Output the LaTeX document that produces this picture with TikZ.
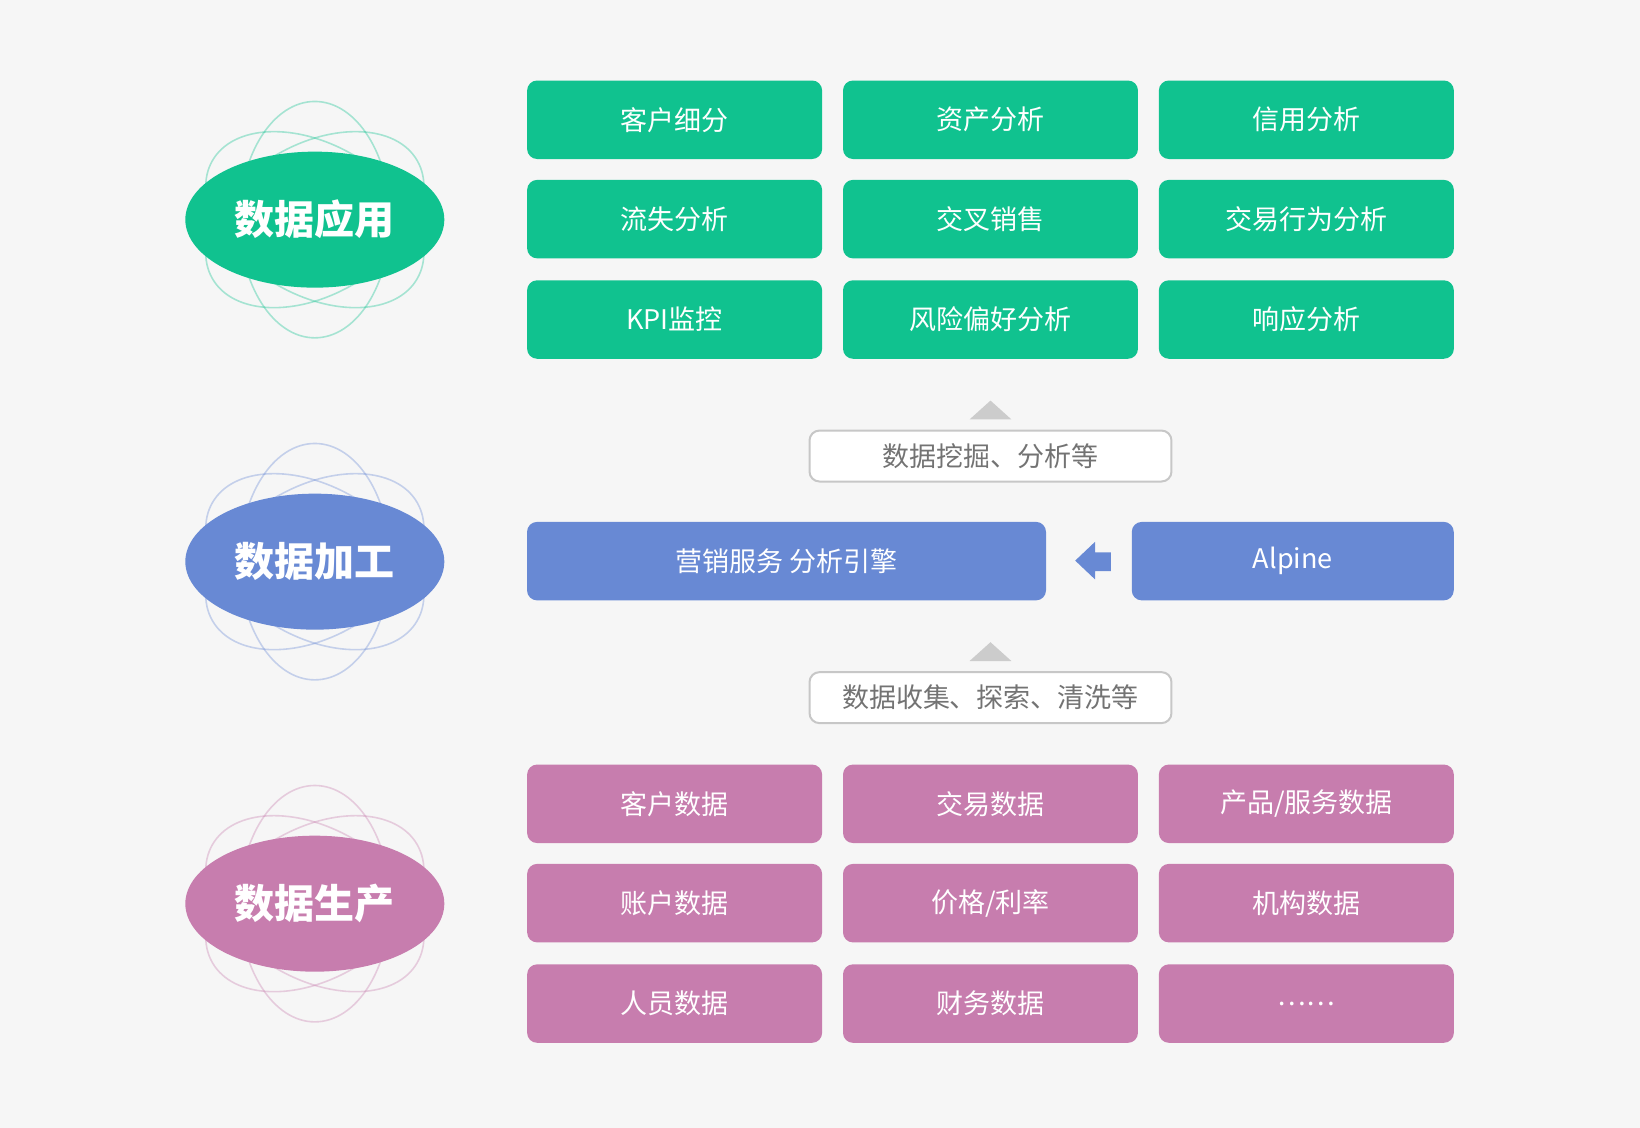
\documentclass[tikz,border=0pt]{standalone}
\usepackage{fontspec}
\setmainfont{Noto Sans CJK SC}
\usetikzlibrary{shapes.geometric}
\definecolor{bg}{HTML}{F6F6F6}
\definecolor{gr}{HTML}{10C28F}
\definecolor{bl}{HTML}{6889D4}
\definecolor{pk}{HTML}{C77DAE}
\tikzset{
 bx/.style={rounded corners=10pt,minimum width=295pt,minimum height=78.5pt,text=white,font=\fontsize{27}{31}\selectfont,inner sep=0},
 lbl/.style={draw=black!22,line width=2pt,fill=white,rounded corners=10pt,minimum width=362pt,minimum height=51pt,text=black!55,font=\fontsize{27}{31}\selectfont,inner sep=0},
 big/.style={ellipse,minimum width=259pt,minimum height=136pt,text=white,font=\fontsize{40}{44}\selectfont\bfseries,inner sep=0},
}
\begin{document}
\begin{tikzpicture}[x=1.046pt,y=-1.046pt]
\fill[bg] (0,0) rectangle (1568,1078);
\useasboundingbox (0,0) rectangle (1568,1078);
\foreach \c/\yy in {gr/210,bl/537,pk/864}{
 \foreach \a in {90,30,-30}{
  \draw[\c,opacity=0.35,line width=1.6pt,rotate around={\a:(301,\yy)}] (301,\yy) ellipse[x radius=113,y radius=72];
 }
}
\node[big,fill=gr] (e1) at (301,210) {数据应用};
\node[big,fill=bl] (e2) at (301,537) {数据加工};
\node[big,fill=pk] (e3) at (301,864) {数据生产};
% green
\node[bx,fill=gr] (g1) at (645,114.5) {客户细分};
\node[bx,fill=gr] (g2) at (947,114.5) {资产分析};
\node[bx,fill=gr] (g3) at (1249,114.5) {信用分析};
\node[bx,fill=gr] (g4) at (645,209.5) {流失分析};
\node[bx,fill=gr] (g5) at (947,209.5) {交叉销售};
\node[bx,fill=gr] (g6) at (1249,209.5) {交易行为分析};
\node[bx,fill=gr] (g7) at (645,305.5) {KPI监控};
\node[bx,fill=gr] (g8) at (947,305.5) {风险偏好分析};
\node[bx,fill=gr] (g9) at (1249,305.5) {响应分析};
% pink
\node[bx,fill=pk] (p1) at (645,768.5) {客户数据};
\node[bx,fill=pk] (p2) at (947,768.5) {交易数据};
\node[bx,fill=pk] (p3) at (1249,768.5) {产品/服务数据};
\node[bx,fill=pk] (p4) at (645,863.5) {账户数据};
\node[bx,fill=pk] (p5) at (947,863.5) {价格/利率};
\node[bx,fill=pk] (p6) at (1249,863.5) {机构数据};
\node[bx,fill=pk] (p7) at (645,959.5) {人员数据};
\node[bx,fill=pk] (p8) at (947,959.5) {财务数据};
\node[bx,fill=pk] (p9) at (1249,959.5) {……};
% blue
\node[bx,fill=bl,minimum width=519pt] (b1) at (752,536.5) {营销服务 分析引擎};
\node[bx,fill=bl,minimum width=322pt] (b2) at (1236,536.5) {Alpine};
\fill[bl] (1028,536) -- (1047,518) -- (1047,528) -- (1062,528) -- (1062,546) -- (1047,546) -- (1047,554) -- cycle;
% labels
\node[lbl] (l1) at (947,436) {数据挖掘、分析等};
\node[lbl] (l2) at (947,667) {数据收集、探索、清洗等};
\fill[black!20] (927,401) -- (947,383) -- (967,401) -- cycle;
\fill[black!20] (927,632) -- (947,614) -- (967,632) -- cycle;
\end{tikzpicture}
\end{document}
